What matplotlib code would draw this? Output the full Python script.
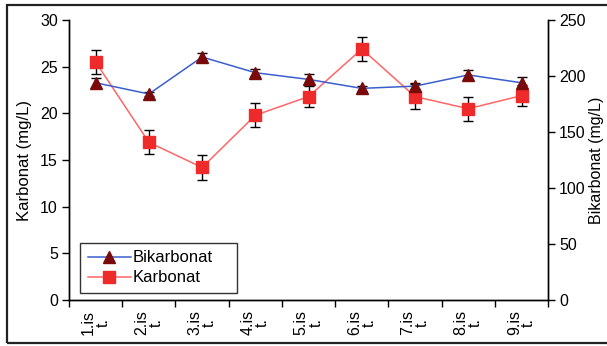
import numpy as np
import matplotlib.pyplot as plt
from matplotlib.patches import Rectangle
from matplotlib.lines import Line2D

plt.rcParams['font.family'] = ['Liberation Sans', 'DejaVu Sans']

# sampling stations
stations = ["1.is\nt.", "2.is\nt.", "3.is\nt.", "4.is\nt.", "5.is\nt.",
            "6.is\nt.", "7.is\nt.", "8.is\nt.", "9.is\nt."]

# carbonate, left axis (mg/L)
karbonat = [25.5, 16.9, 14.2, 19.8, 21.8, 26.9, 21.8, 20.5, 21.9]
karbonat_err = [1.3, 1.3, 1.3, 1.3, 1.15, 1.3, 1.3, 1.3, 1.15]

# bicarbonate, right axis (mg/L)
bikarbonat = [194, 184, 217, 203, 197, 189, 191, 201, 194]
bikarbonat_err = [4, 2, 4, 3, 5, 2, 3, 4, 5]

x = np.arange(1, len(stations) + 1)

kar_line, kar_mark = '#ff6666', '#ee2a2a'
bik_line, bik_mark = '#3a5fcd', '#7a0a0a'

fig = plt.figure(figsize=(6.07, 3.46), dpi=100)
ax = fig.add_axes([0.1137, 0.133, 0.7893, 0.809])
ax2 = ax.twinx()

# outer frame around the whole chart
fig.patches.append(Rectangle((0.0115, 0.009), 1.0, 0.9765, transform=fig.transFigure,
                             fill=False, edgecolor='#222222', linewidth=1.6))

ax.errorbar(x, karbonat, yerr=karbonat_err, color=kar_line, lw=1.1,
            marker='s', markersize=9, markerfacecolor=kar_mark,
            markeredgecolor=kar_mark, ecolor='black', elinewidth=1,
            capsize=3.5, capthick=1, zorder=3)
ax2.errorbar(x, bikarbonat, yerr=bikarbonat_err, color=bik_line, lw=1.1,
             marker='^', markersize=9, markerfacecolor=bik_mark,
             markeredgecolor=bik_mark, ecolor='black', elinewidth=1,
             capsize=3.5, capthick=1, zorder=3)

ax.set_xlim(0.5, 9.5)
ax.set_ylim(0, 30)
ax2.set_ylim(0, 250)
ax.set_yticks(np.arange(0, 31, 5))
ax2.set_yticks(np.arange(0, 251, 50))

# category boundaries get tick marks, labels sit between them
ax.set_xticks(np.arange(0.5, 10, 1))
ax.set_xticklabels([])
ax.set_xticks(x, minor=True)
ax.set_xticklabels(stations, minor=True, rotation=90, fontsize=11.5,
                   ha='center', va='top', multialignment='center', linespacing=0.95)
ax.tick_params(axis='x', which='minor', length=0, pad=7)
ax.tick_params(axis='x', which='major', direction='out', length=5, width=1)
ax.tick_params(axis='y', direction='out', length=5, width=1, labelsize=11.5, pad=3)
ax2.tick_params(axis='y', direction='out', length=5, width=1, labelsize=11.5, pad=3)

for a in (ax, ax2):
    a.spines['top'].set_visible(False)
    for s in ('left', 'right', 'bottom'):
        a.spines[s].set_linewidth(1)
        a.spines[s].set_color('black')

ax.set_ylabel('Karbonat (mg/L)', fontsize=12, labelpad=6)
ax2.set_ylabel('Bikarbonat (mg/L)', fontsize=11.5, labelpad=2)

handles = [Line2D([], [], color=bik_line, lw=1.1, marker='^', markersize=9,
                  markerfacecolor=bik_mark, markeredgecolor=bik_mark),
           Line2D([], [], color=kar_line, lw=1.1, marker='s', markersize=9,
                  markerfacecolor=kar_mark, markeredgecolor=kar_mark)]
leg = ax2.legend(handles, ['Bikarbonat', 'Karbonat'], loc='lower left',
                 bbox_to_anchor=(0.023, 0.025, 0.328, 0.2), mode='expand',
                 fontsize=12, frameon=True, fancybox=False, edgecolor='black',
                 handlelength=2.6, borderpad=0.45, labelspacing=0.3,
                 handletextpad=0.1, borderaxespad=0)
leg.get_frame().set_linewidth(1)

fig.savefig('out.png', dpi=100)
